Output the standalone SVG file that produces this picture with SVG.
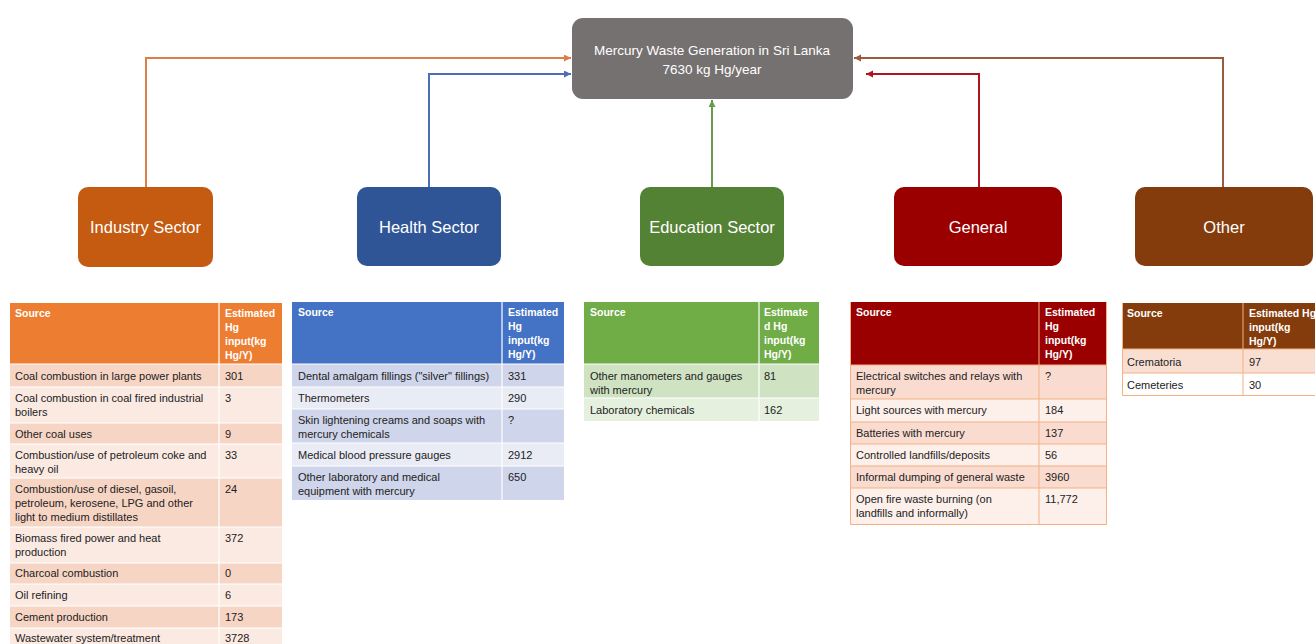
<svg xmlns="http://www.w3.org/2000/svg" width="1315" height="644" viewBox="0 0 1315 644">
<style>
text{font-family:"Liberation Sans",Arial,sans-serif}
.nt{fill:#FFFFFF;font-size:16.5px;text-anchor:middle}
.ct{fill:#FFFFFF;font-size:13.5px;text-anchor:middle}
.hd{fill:#FFFFFF;font-size:10.5px;font-weight:bold}
.cell{fill:#222222;font-size:11px}
.conn{fill:none;stroke-width:2}
.wl{stroke:#FFFFFF;stroke-width:1.2}
.pl{stroke:#F4B183;stroke-width:1}
</style>
<defs>
<marker id="aO" markerUnits="userSpaceOnUse" markerWidth="8" markerHeight="8" refX="7" refY="3.5" orient="auto"><path d="M0,0 L7,3.5 L0,7 z" fill="#DD7F45"/></marker>
<marker id="aB" markerUnits="userSpaceOnUse" markerWidth="8" markerHeight="8" refX="7" refY="3.5" orient="auto"><path d="M0,0 L7,3.5 L0,7 z" fill="#4A6FB5"/></marker>
<marker id="aG" markerUnits="userSpaceOnUse" markerWidth="8" markerHeight="8" refX="7" refY="3.5" orient="auto"><path d="M0,0 L7,3.5 L0,7 z" fill="#6A9A4C"/></marker>
<marker id="aR" markerUnits="userSpaceOnUse" markerWidth="8" markerHeight="8" refX="7" refY="3.5" orient="auto"><path d="M0,0 L7,3.5 L0,7 z" fill="#B0151E"/></marker>
<marker id="aBr" markerUnits="userSpaceOnUse" markerWidth="8" markerHeight="8" refX="7" refY="3.5" orient="auto"><path d="M0,0 L7,3.5 L0,7 z" fill="#9C5A3C"/></marker>
</defs>
<rect width="1315" height="644" fill="#FFFFFF"/>

<g id="connectors">
<path class="conn" stroke="#DD7F45" d="M146,187 V58 H571" marker-end="url(#aO)"/>
<path class="conn" stroke="#4A6FB5" d="M429,187 V74 H571" marker-end="url(#aB)"/>
<path class="conn" stroke="#6A9A4C" d="M712,187 V100" marker-end="url(#aG)"/>
<path class="conn" stroke="#B0151E" d="M979,187 V74 H866" marker-end="url(#aR)"/>
<path class="conn" stroke="#9C5A3C" d="M1223,187 V58 H854" marker-end="url(#aBr)"/>
</g>

<g id="central">
<rect x="572" y="18" width="281" height="81" rx="11" fill="#767171"/>
<text class="ct" x="712" y="55">Mercury Waste Generation in Sri Lanka</text>
<text class="ct" x="712" y="74">7630 kg Hg/year</text>
</g>

<g id="industry">
<rect x="78" y="187" width="135" height="80" rx="10" fill="#C55A11"/>
<text class="nt" x="145.5" y="233">Industry Sector</text>
</g>
<g id="health">
<rect x="357" y="187" width="144" height="79" rx="10" fill="#2F5597"/>
<text class="nt" x="429" y="233">Health Sector</text>
</g>
<g id="education">
<rect x="640" y="187" width="144" height="79" rx="10" fill="#548235"/>
<text class="nt" x="712" y="233">Education Sector</text>
</g>
<g id="general">
<rect x="894" y="187" width="168" height="79" rx="10" fill="#9A0000"/>
<text class="nt" x="978" y="233">General</text>
</g>
<g id="other">
<rect x="1135" y="187" width="178" height="79" rx="10" fill="#843C0C"/>
<text class="nt" x="1224" y="233">Other</text>
</g>

<g id="industry-table">
<rect x="10" y="303" width="272" height="61" fill="#ED7D31"/>
<rect x="10" y="364" width="272" height="23" fill="#F7D5C5"/>
<rect x="10" y="387" width="272" height="36" fill="#FBEAE2"/>
<rect x="10" y="423" width="272" height="21" fill="#F7D5C5"/>
<rect x="10" y="444" width="272" height="34" fill="#FBEAE2"/>
<rect x="10" y="478" width="272" height="49" fill="#F7D5C5"/>
<rect x="10" y="527" width="272" height="36" fill="#FBEAE2"/>
<rect x="10" y="563" width="272" height="21" fill="#F7D5C5"/>
<rect x="10" y="584" width="272" height="22" fill="#FBEAE2"/>
<rect x="10" y="606" width="272" height="22" fill="#F7D5C5"/>
<rect x="10" y="628" width="272" height="22" fill="#FBEAE2"/>
<path class="wl" d="M219,303 V650 M10,364 H282 M10,387 H282 M10,423 H282 M10,444 H282 M10,478 H282 M10,527 H282 M10,563 H282 M10,584 H282 M10,606 H282 M10,628 H282"/>
<text class="hd" x="15" y="317">Source</text>
<text class="hd" x="225" y="317">Estimated</text>
<text class="hd" x="225" y="331">Hg</text>
<text class="hd" x="225" y="345">input(kg</text>
<text class="hd" x="225" y="359">Hg/Y)</text>
<text class="cell" x="15" y="380">Coal combustion in large power plants</text><text class="cell" x="225" y="380">301</text>
<text class="cell" x="15" y="402">Coal combustion in coal fired industrial</text><text class="cell" x="15" y="416">boilers</text><text class="cell" x="225" y="402">3</text>
<text class="cell" x="15" y="438">Other coal uses</text><text class="cell" x="225" y="438">9</text>
<text class="cell" x="15" y="459">Combustion/use of petroleum coke and</text><text class="cell" x="15" y="473">heavy oil</text><text class="cell" x="225" y="459">33</text>
<text class="cell" x="15" y="493">Combustion/use of diesel, gasoil,</text><text class="cell" x="15" y="507">petroleum, kerosene, LPG and other</text><text class="cell" x="15" y="521">light to medium distillates</text><text class="cell" x="225" y="493">24</text>
<text class="cell" x="15" y="542">Biomass fired power and heat</text><text class="cell" x="15" y="556">production</text><text class="cell" x="225" y="542">372</text>
<text class="cell" x="15" y="577">Charcoal combustion</text><text class="cell" x="225" y="577">0</text>
<text class="cell" x="15" y="599">Oil refining</text><text class="cell" x="225" y="599">6</text>
<text class="cell" x="15" y="621">Cement production</text><text class="cell" x="225" y="621">173</text>
<text class="cell" x="15" y="642">Wastewater system/treatment</text><text class="cell" x="225" y="642">3728</text>
</g>

<g id="health-table">
<rect x="292" y="302" width="272" height="62" fill="#4472C4"/>
<rect x="292" y="364" width="272" height="23" fill="#CFD5EA"/>
<rect x="292" y="387" width="272" height="22" fill="#E9EBF5"/>
<rect x="292" y="409" width="272" height="34" fill="#CFD5EA"/>
<rect x="292" y="443" width="272" height="23" fill="#E9EBF5"/>
<rect x="292" y="466" width="272" height="34" fill="#CFD5EA"/>
<path class="wl" d="M502,302 V500 M292,364 H564 M292,387 H564 M292,409 H564 M292,443 H564 M292,466 H564"/>
<text class="hd" x="298" y="316">Source</text>
<text class="hd" x="508" y="316">Estimated</text>
<text class="hd" x="508" y="330">Hg</text>
<text class="hd" x="508" y="344">input(kg</text>
<text class="hd" x="508" y="358">Hg/Y)</text>
<text class="cell" x="298" y="380">Dental amalgam fillings ("silver" fillings)</text><text class="cell" x="508" y="380">331</text>
<text class="cell" x="298" y="402">Thermometers</text><text class="cell" x="508" y="402">290</text>
<text class="cell" x="298" y="424">Skin lightening creams and soaps with</text><text class="cell" x="298" y="438">mercury chemicals</text><text class="cell" x="508" y="424">?</text>
<text class="cell" x="298" y="459">Medical blood pressure gauges</text><text class="cell" x="508" y="459">2912</text>
<text class="cell" x="298" y="481">Other laboratory and medical</text><text class="cell" x="298" y="495">equipment with mercury</text><text class="cell" x="508" y="481">650</text>
</g>

<g id="education-table">
<rect x="584" y="302" width="235" height="62" fill="#70AD47"/>
<rect x="584" y="364" width="235" height="34" fill="#CFE3C2"/>
<rect x="584" y="398" width="235" height="23" fill="#E5F0DE"/>
<path class="wl" d="M759,302 V421 M584,364 H819 M584,398 H819"/>
<text class="hd" x="590" y="316">Source</text>
<text class="hd" x="764" y="316">Estimate</text>
<text class="hd" x="764" y="330">d Hg</text>
<text class="hd" x="764" y="344">input(kg</text>
<text class="hd" x="764" y="358">Hg/Y)</text>
<text class="cell" x="590" y="380">Other manometers and gauges</text><text class="cell" x="590" y="394">with mercury</text><text class="cell" x="764" y="380">81</text>
<text class="cell" x="590" y="414">Laboratory chemicals</text><text class="cell" x="764" y="414">162</text>
</g>

<g id="general-table">
<rect x="850" y="302" width="257" height="63" fill="#9A0000"/>
<rect x="850" y="365" width="257" height="34" fill="#FADBD0"/>
<rect x="850" y="399" width="257" height="23" fill="#FDF0EB"/>
<rect x="850" y="422" width="257" height="22" fill="#FADBD0"/>
<rect x="850" y="444" width="257" height="22" fill="#FDF0EB"/>
<rect x="850" y="466" width="257" height="22" fill="#FADBD0"/>
<rect x="850" y="488" width="257" height="36" fill="#FDF0EB"/>
<path class="pl" fill="none" d="M850.5,302 V524.5 H1106.5 V302 M1039,302 V524 M850,365 H1107 M850,399 H1107 M850,422 H1107 M850,444 H1107 M850,466 H1107 M850,488 H1107"/>
<text class="hd" x="856" y="316">Source</text>
<text class="hd" x="1045" y="316">Estimated</text>
<text class="hd" x="1045" y="330">Hg</text>
<text class="hd" x="1045" y="344">input(kg</text>
<text class="hd" x="1045" y="358">Hg/Y)</text>
<text class="cell" x="856" y="380">Electrical switches and relays with</text><text class="cell" x="856" y="394">mercury</text><text class="cell" x="1045" y="380">?</text>
<text class="cell" x="856" y="414">Light sources with mercury</text><text class="cell" x="1045" y="414">184</text>
<text class="cell" x="856" y="437">Batteries with mercury</text><text class="cell" x="1045" y="437">137</text>
<text class="cell" x="856" y="459">Controlled landfills/deposits</text><text class="cell" x="1045" y="459">56</text>
<text class="cell" x="856" y="481">Informal dumping of general waste</text><text class="cell" x="1045" y="481">3960</text>
<text class="cell" x="856" y="503">Open fire waste burning (on</text><text class="cell" x="856" y="517">landfills and informally)</text><text class="cell" x="1045" y="503">11,772</text>
</g>

<g id="other-table">
<rect x="1122" y="303" width="200" height="46" fill="#843C0C"/>
<rect x="1122" y="349" width="200" height="24" fill="#F9DFD2"/>
<rect x="1122" y="373" width="200" height="23" fill="#FFFFFF"/>
<path class="pl" fill="none" d="M1122.5,303 V395.5 H1320 M1243,303 V396 M1122,349 H1320 M1122,373 H1320"/>
<text class="hd" x="1127" y="317">Source</text>
<text class="hd" x="1249" y="317">Estimated Hg</text>
<text class="hd" x="1249" y="331">input(kg</text>
<text class="hd" x="1249" y="345">Hg/Y)</text>
<text class="cell" x="1127" y="366">Crematoria</text><text class="cell" x="1249" y="366">97</text>
<text class="cell" x="1127" y="389">Cemeteries</text><text class="cell" x="1249" y="389">30</text>
</g>
</svg>
